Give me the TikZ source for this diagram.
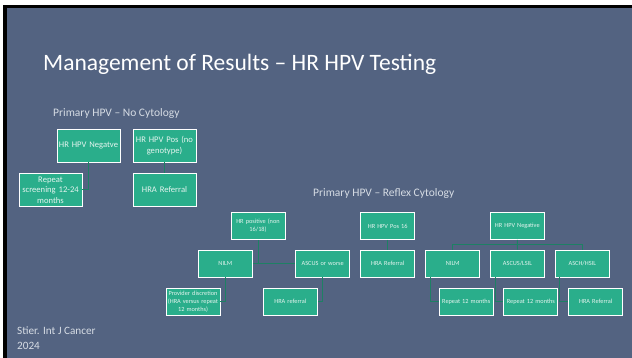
\documentclass[tikz,border=0pt]{standalone}
\usepackage{fontspec}
\setmainfont{Carlito}
\usepackage{tikz}

\definecolor{slide}{RGB}{83,99,129}
\definecolor{teal}{RGB}{42,174,139}
\definecolor{link}{RGB}{30,128,100}
\definecolor{boxtext}{RGB}{228,244,239}
\definecolor{head}{RGB}{214,220,228}

\begin{document}
\begin{tikzpicture}[x=1pt,y=-1pt,
    box/.style={draw=white,fill=teal,line width=0.9pt,inner sep=1pt,align=center,text=boxtext},
    bigbox/.style={box,text width=61pt,minimum height=33pt,font=\fontsize{8.6}{10.5}\selectfont},
    smallbox/.style={box,text width=52pt,minimum height=27pt,font=\fontsize{6.3}{8}\selectfont},
    conn/.style={draw=link,line width=1pt}]

    \useasboundingbox (0,0) rectangle (632,358);
    \fill[white] (0,0) rectangle (632,358);
    \fill[black] (3,5.5) rectangle (632,358);
    \fill[slide] (7,8.5) rectangle (632,358);

    \node[anchor=base west,inner sep=0pt,text=white,font=\fontsize{23.5}{28}\selectfont] (title) at (43,71) {Management of Results -- HR HPV Testing};

    \node[anchor=base west,inner sep=0pt,text=head,font=\fontsize{11.5}{14}\selectfont] (headA) at (53,117) {Primary HPV -- No Cytology};
    \node[anchor=base west,inner sep=0pt,text=head,font=\fontsize{11.5}{14}\selectfont] (headB) at (313,197) {Primary HPV -- Reflex Cytology};

    % no cytology
    \node[bigbox] (negA) at (88.5,145.5) {HR HPV Negatve};
    \node[bigbox] (posA) at (164.5,145.5) {HR HPV Pos (no\\genotype)};
    \node[bigbox] (repA) at (50.5,190) {Repeat\\screening 12-24\\months};
    \node[bigbox] (hraA) at (164.5,190) {HRA Referral};

    \draw[conn] (negA.south) |- (repA.east);
    \draw[conn] (posA) -- (hraA);

    % reflex cytology, non 16/18
    \node[smallbox] (hrpos) at (258,226) {HR positive (non\\16/18)};
    \node[smallbox] (nilmA) at (225.3,263.5) {NILM};
    \node[smallbox] (ascA) at (322.7,263.5) {ASCUS or worse};
    \node[smallbox] (provA) at (193,301.7) {Provider discretion\\(HRA versus repeat\\12 months)};
    \node[smallbox] (hraB) at (290.3,301.7) {HRA referral};

    \draw[conn] (hrpos.south) -- (hrpos.south |- nilmA.east);
    \draw[conn] (nilmA.east) -- (ascA.west);
    \draw[conn] (nilmA.south) |- (provA.east);
    \draw[conn] (ascA.south) |- (hraB.east);

    % reflex cytology, 16
    \node[smallbox] (pos16) at (387.7,226) {HR HPV Pos  16};
    \node[smallbox] (hraC) at (387.7,263.5) {HRA Referral};

    \draw[conn] (pos16) -- (hraC);

    % reflex cytology, negative
    \node[smallbox] (negB) at (517.3,226) {HR HPV Negative};
    \node[smallbox] (nilmB) at (452.7,263.5) {NILM};
    \node[smallbox] (ascB) at (517.5,263.5) {ASCUS/LSIL};
    \node[smallbox] (aschB) at (582.3,263.5) {ASCH/HSIL};
    \node[smallbox] (repB) at (466.2,301.7) {Repeat 12 months};
    \node[smallbox] (repC) at (530.9,301.7) {Repeat 12 months};
    \node[smallbox] (hraD) at (595.7,301.7) {HRA Referral};

    \coordinate (bus) at (0,244.5);
    \draw[conn] (negB.south) -- (ascB.north);
    \draw[conn] (nilmB.north) -- (nilmB.north |- bus) -- (aschB.north |- bus) -- (aschB.north);
    \draw[conn] ([xshift=5pt]nilmB.south west) |- (repB.west);
    \draw[conn] ([xshift=5pt]ascB.south west) |- (repC.west);
    \draw[conn] ([xshift=5pt]aschB.south west) |- (hraD.west);

    \node[anchor=base west,inner sep=0pt,align=left,text=head,font=\fontsize{11.2}{15.7}\selectfont] (src) at (17,349.7) {Stier. Int J Cancer\\2024};
\end{tikzpicture}
\end{document}
